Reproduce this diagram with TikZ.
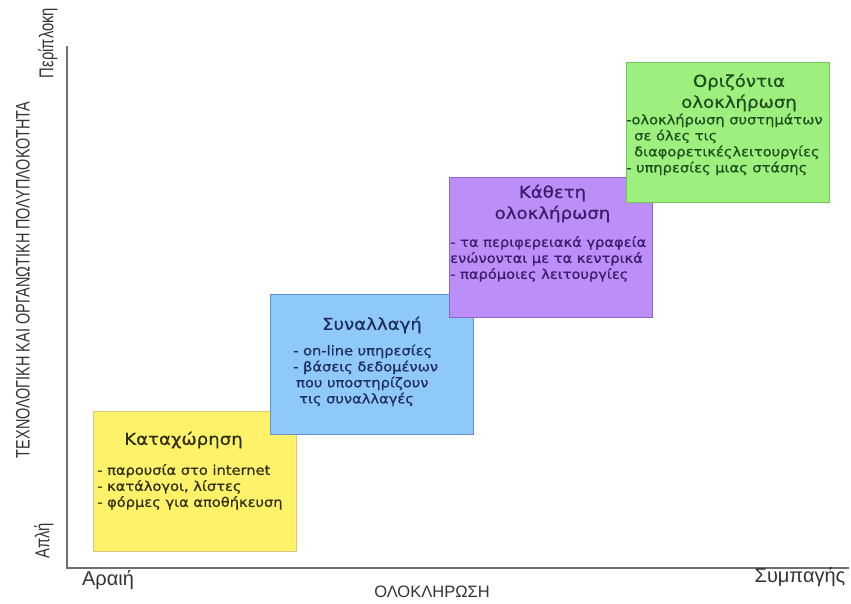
\documentclass[tikz,border=0pt]{standalone}
\usepackage{fontspec}
\setmainfont{DejaVu Sans}[FakeStretch=1.1, FakeBold=0.6]
\newfontfamily\axisfont{Liberation Sans}
\newfontfamily\narrowfont{Liberation Sans}[FakeStretch=0.74]
\usetikzlibrary{calc}

\definecolor{yfill}{HTML}{FFF26B}
\definecolor{yline}{HTML}{D6C77E}
\definecolor{ytext}{HTML}{2E2E14}
\definecolor{bfill}{HTML}{8EC9F9}
\definecolor{bline}{HTML}{6592CC}
\definecolor{btext}{HTML}{1F2D5C}
\definecolor{pfill}{HTML}{BB8FF7}
\definecolor{pline}{HTML}{8E69CC}
\definecolor{ptext}{HTML}{3A1C6B}
\definecolor{gfill}{HTML}{9EF07E}
\definecolor{gline}{HTML}{74C25A}
\definecolor{gtext}{HTML}{1E4D1E}
\definecolor{axisgray}{HTML}{707070}

\tikzset{
  stage/.style={rectangle, minimum width=203pt, minimum height=140pt, inner sep=0pt, line width=0.8pt},
  stagetitle/.style={font=\fontsize{16.5}{21}\selectfont, align=center, inner sep=0pt},
  stageitems/.style={font=\fontsize{13.3}{16}\selectfont, align=left, inner sep=0pt, anchor=north west},
  axisline/.style={draw=axisgray, line width=1.2pt},
  axislabel/.style={font=\axisfont\fontsize{20}{22}\selectfont, text=black!80, inner sep=0pt}
}

\begin{document}
\begin{tikzpicture}[x=1pt, y=-1pt]
  \useasboundingbox (0,0) rectangle (851,603);
  \coordinate (o) at (67,568);
  \coordinate (ytop) at (67,46);
  \coordinate (xend) at (849,568);
  \draw[axisline] (ytop) -- (o) -- (xend);

  \node[stage, fill=yfill, draw=yline] (b1) at (194.5,481) {};
  \node[stagetitle, text=ytext] (t1) at ($(b1) + (-11,-41)$) {Καταχώρηση};
  \node[stageitems, text=ytext] (l1) at ($(b1) + (-97.5,-17)$)
    {- παρουσία στο internet\\- κατάλογοι, λίστες\\- φόρμες για αποθήκευση};

  \node[stage, fill=bfill, draw=bline] (b2) at (371.5,364.5) {};
  \node[stagetitle, text=btext] (t2) at ($(b2) + (0.5,-39.5)$) {Συναλλαγή};
  \node[stageitems, text=btext] (l2) at ($(b2) + (-78.5,-20)$)
    {- on-line υπηρεσίες\\- βάσεις δεδομένων\\\hspace{3pt}που υποστηρίζουν\\\hspace{6pt}τις συναλλαγές};

  \node[stage, fill=pfill, draw=pline] (b3) at (550.5,247.5) {};
  \node[stagetitle, text=ptext] (t3) at ($(b3) + (2,-44)$) {Κάθετη\\ολοκλήρωση};
  \node[stageitems, text=ptext] (l3) at ($(b3) + (-100.5,-11.5)$)
    {- τα περιφερειακά γραφεία\\ενώνονται με τα κεντρικά\\- παρόμοιες λειτουργίες};

  \node[stage, fill=gfill, draw=gline] (b4) at (727.5,132) {};
  \node[stagetitle, text=gtext] (t4) at ($(b4) + (11.5,-39.5)$) {Οριζόντια\\ολοκλήρωση};
  \node[stageitems, text=gtext] (l4) at ($(b4) + (-101.5,-18.5)$)
    {-ολοκλήρωση συστημάτων\\\hspace{8pt}σε όλες τις\\\hspace{8pt}διαφορετικέςλειτουργίες\\- υπηρεσίες μιας στάσης};

  \node[axislabel, font=\narrowfont\fontsize{19.5}{22}\selectfont, rotate=90] (ylab) at (23,280) {ΤΕΧΝΟΛΟΓΙΚΗ ΚΑΙ ΟΡΓΑΝΩΤΙΚΗ ΠΟΛΥΠΛΟΚΟΤΗΤΑ};
  \node[axislabel, font=\narrowfont\fontsize{20}{22}\selectfont, rotate=90] (ymax) at (48,43) {Περίπλοκη};
  \node[axislabel, font=\narrowfont\fontsize{20}{22}\selectfont, rotate=90] (ymin) at (44,541) {Απλή};
  \node[axislabel] (xmin) at (108,580) {Αραιή};
  \node[axislabel] (xmax) at (800,577) {Συμπαγής};
  \node[axislabel, font=\axisfont\fontsize{16.5}{18}\selectfont] (xlab) at (432,592) {ΟΛΟΚΛΗΡΩΣΗ};
\end{tikzpicture}
\end{document}
